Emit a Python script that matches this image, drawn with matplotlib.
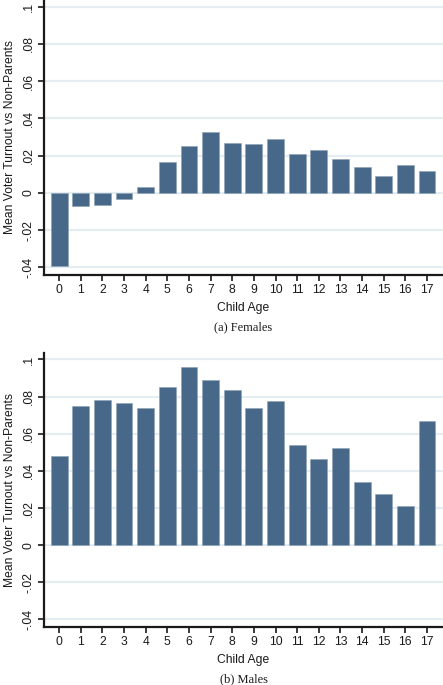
import matplotlib
matplotlib.use("Agg")
import matplotlib.pyplot as plt
import numpy as np

ages = list(range(18))
age_labels = [str(a) for a in ages]

# mean turnout difference vs non-parents
females = [-0.0391, -0.0072, -0.0067, -0.0034, 0.0029, 0.0168, 0.0249, 0.0325,
           0.0265, 0.0260, 0.0287, 0.0211, 0.0231, 0.0184, 0.0136, 0.0093,
           0.0152, 0.0115]
males = [0.0482, 0.0752, 0.0784, 0.0763, 0.0741, 0.0854, 0.0957, 0.0892,
         0.0833, 0.0741, 0.0779, 0.0541, 0.0466, 0.0525, 0.0342, 0.0277,
         0.0212, 0.0671]

ytick_vals = [-0.04, -0.02, 0, 0.02, 0.04, 0.06, 0.08, 0.1]
ytick_labels = ["-.04", "-.02", "0", ".02", ".04", ".06", ".08", ".1"]
captions = ["(a) Females", "(b) Males"]

plt.rcParams["font.family"] = ["Liberation Sans", "DejaVu Sans"]

BAR = "#476889"
GRID = "#e4edf1"
INK = "#1a1a1a"

W, H = 443, 685
fig = plt.figure(figsize=(W / 100, H / 100), dpi=100)

# axes boxes in pixels: (left, top, bottom)
boxes = [(44, 0, 275), (44, 353, 627)]

for (left, top, bottom), vals, cap in zip(boxes, [females, males], captions):
    ax = fig.add_axes([left / W, (H - bottom) / H, (W - left) / W, (bottom - top) / H])
    ax.set_axisbelow(True)
    ax.grid(axis="y", color=GRID, linewidth=1.6)
    ax.bar(ages, vals, width=0.78, color=BAR, edgecolor="#8ea2b6", linewidth=0.4)
    ax.set_xlim(-0.7, 17.74)
    ax.set_ylim(-0.0441, 0.1035)
    ax.set_yticks(ytick_vals)
    ax.set_yticklabels(ytick_labels, rotation=90, va="center", fontsize=8.7, color=INK)
    ax.set_xticks(ages)
    ax.set_xticklabels(age_labels, fontsize=8.7, color=INK)
    ax.tick_params(axis="both", length=4, width=1.2, color=INK, pad=2.5)
    for s in ["top", "right"]:
        ax.spines[s].set_visible(False)
    for s in ["left", "bottom"]:
        ax.spines[s].set_linewidth(1.6)
        ax.spines[s].set_color(INK)
    ax.set_xlabel("Child Age", fontsize=8.7, color=INK, labelpad=4)
    ax.set_ylabel("Mean Voter Turnout vs Non-Parents", fontsize=8.7, color=INK, labelpad=5)
    fig.text((left + W) / 2 / W, 1 - (bottom + 52) / H, cap, ha="center", va="center",
             fontsize=9, family=["Liberation Serif", "DejaVu Serif"], color=INK)

fig.savefig("out.png", dpi=100)
